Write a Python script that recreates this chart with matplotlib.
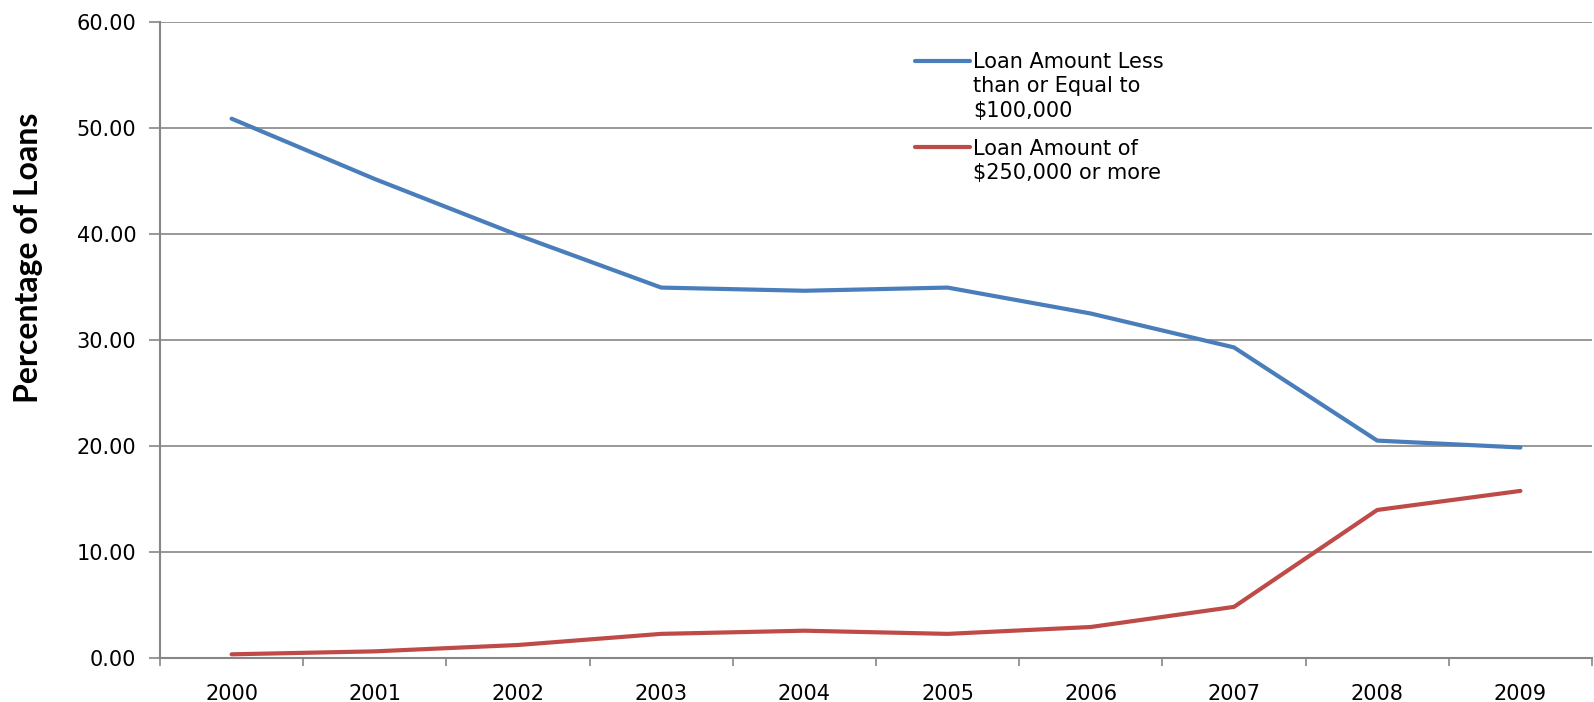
"""Loan size share chart."""

import matplotlib

matplotlib.use("Agg")

import matplotlib.pyplot as plt
from matplotlib.lines import Line2D
import numpy as np

years = ["2000", "2001", "2002", "2003", "2004", "2005", "2006", "2007", "2008", "2009"]
small_loans = [50.9, 45.2, 39.9, 34.95, 34.65, 34.95, 32.5, 29.3, 20.5, 19.85]
large_loans = [0.32, 0.6, 1.2, 2.25, 2.55, 2.25, 2.9, 4.8, 13.95, 15.75]
series_labels = [
    "Loan Amount Less\nthan or Equal to\n$100,000",
    "Loan Amount of\n$250,000 or more",
]
y_ticks = [0, 10, 20, 30, 40, 50, 60]

BLUE = "#4A7EBB"
RED = "#BE4B48"
GRID = "#868686"

plt.rcParams["font.family"] = ["DejaVu Sans"]

fig = plt.figure(figsize=(15.94, 7.02), dpi=100)
ax = fig.add_axes([160 / 1594, 1 - 657.7 / 702, 1432 / 1594, (657.7 - 22.3) / 702])

x = np.arange(len(years))
ax.plot(x, small_loans, color=BLUE, lw=3, solid_capstyle="round", zorder=3)
ax.plot(x, large_loans, color=RED, lw=3, solid_capstyle="round", zorder=3)

ax.set_xlim(-0.5, len(years) - 0.5)
ax.set_ylim(0, 60)
ax.set_yticks(y_ticks)
ax.set_yticklabels([f"{v:.2f}" for v in y_ticks])
ax.set_xticks(x)
ax.set_xticklabels(years)
ax.set_xticks(np.arange(len(years) + 1) - 0.5, minor=True)

ax.tick_params(axis="x", which="major", length=0, pad=19, labelsize=15)
ax.tick_params(axis="x", which="minor", length=6, width=1.2, color=GRID, direction="out")
ax.tick_params(axis="y", length=8, width=1.2, color=GRID, pad=9, labelsize=15)

ax.yaxis.grid(True, color=GRID, lw=1.2)
ax.set_axisbelow(True)
for side in ["top", "right"]:
    ax.spines[side].set_visible(False)
for side in ["left", "bottom"]:
    ax.spines[side].set_color(GRID)
    ax.spines[side].set_linewidth(1.5)
ax.spines["bottom"].set_zorder(2)

ax.set_ylabel("Percentage of Loans", fontsize=23, fontweight="bold",
              family=["Lato", "DejaVu Sans"])
ax.yaxis.set_label_coords(-0.0815, 0.630)

# legend drawn by hand so the key sits on the first text line
legend_rows = [(BLUE, series_labels[0], 61, 52), (RED, series_labels[1], 147, 139)]
for color, label, ykey, ytext in legend_rows:
    yf = 1 - ykey / 702
    fig.add_artist(Line2D([915 / 1594, 970 / 1594], [yf, yf], color=color, lw=3,
                          solid_capstyle="round", transform=fig.transFigure))
    fig.text(973 / 1594, 1 - ytext / 702, label, fontsize=15, va="top", ha="left",
             linespacing=1.28)

fig.savefig("out.png", dpi=100)
